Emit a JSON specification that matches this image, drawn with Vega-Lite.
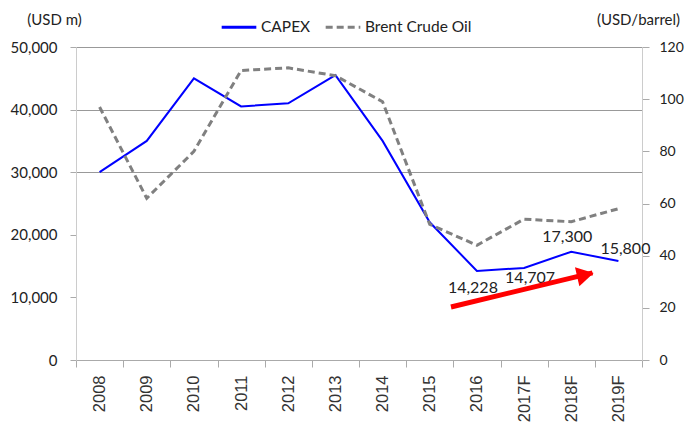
{
  "$schema": "https://vega.github.io/schema/vega-lite/v6.json",
  "width": 566,
  "height": 313,
  "autosize": {"type": "none"},
  "padding": {"left": 76, "top": 47, "right": 44, "bottom": 65},
  "background": "white",
  "config": {"view": {"stroke": null}, "font": "Lato"},
  "datasets": {
    "main": [
      {"year": "2008", "capex": 30000, "brent": 97},
      {"year": "2009", "capex": 35000, "brent": 62},
      {"year": "2010", "capex": 45000, "brent": 80},
      {"year": "2011", "capex": 40500, "brent": 111},
      {"year": "2012", "capex": 41000, "brent": 112},
      {"year": "2013", "capex": 45500, "brent": 109},
      {"year": "2014", "capex": 35000, "brent": 99},
      {"year": "2015", "capex": 22000, "brent": 52},
      {"year": "2016", "capex": 14228, "brent": 44, "label": "14,228"},
      {"year": "2017F", "capex": 14707, "brent": 54, "label": "14,707"},
      {"year": "2018F", "capex": 17300, "brent": 53, "label": "17,300"},
      {"year": "2019F", "capex": 15800, "brent": 58, "label": "15,800"}
    ],
    "arrow": [
      {"year": "2015", "v": 20.3},
      {"year": "2018F", "v": 33.4}
    ],
    "arrowhead": [
      {"year": "2018F", "v": 32.6}
    ]
  },
  "layer": [
    {
      "data": {"name": "main"},
      "layer": [
        {
          "mark": {"type": "line", "color": "#0000ff", "strokeWidth": 2},
          "encoding": {
            "x": {
              "field": "year", "type": "nominal", "sort": null, "bandPosition": 0.5,
              "scale": {"type": "band", "paddingInner": 0, "paddingOuter": 0},
              "axis": {
                "title": null, "labelAngle": -90, "labelAlign": "right", "labelBaseline": "middle",
                "labelFont": "Liberation Sans", "labelFontSize": 16.5, "labelColor": "#333",
                "tickBand": "extent", "tickSize": 7, "tickColor": "#aaa", "domainColor": "#aaa",
                "labelPadding": 8, "grid": false
              }
            },
            "y": {
              "field": "capex", "type": "quantitative",
              "scale": {"domain": [0, 50000], "nice": false},
              "axis": {
                "values": [0, 10000, 20000, 30000, 40000, 50000], "format": ",.0f",
                "title": "(USD m)", "titleAngle": 0, "titleX": -22, "titleY": -28,
                "titleAlign": "center", "titleBaseline": "middle", "titleFont": "Lato",
                "titleFontSize": 15, "titleFontWeight": "normal", "titleColor": "#222",
                "labelFont": "Lato", "labelFontSize": 15, "labelColor": "#222",
                "tickSize": 6, "tickColor": "#aaa", "labelPadding": 13,
                "domainColor": "#ccc",
                "grid": true,
                "gridColor": {"condition": {"test": "datum.value >= 30000", "value": "#999"}, "value": "transparent"}
              }
            },
            "color": {
              "datum": "CAPEX",
              "scale": {"domain": ["CAPEX", "Brent Crude Oil"], "range": ["#0000ff", "#808080"]},
              "legend": {
                "title": null, "orient": "none", "legendX": 144, "legendY": -39,
                "direction": "horizontal", "symbolType": "stroke", "symbolSize": 1200,
                "symbolStrokeWidth": 3, "labelFont": "Lato", "labelFontSize": 15.5,
                "labelColor": "#222", "labelOffset": 3, "columnPadding": 8,
                "encode": {
                  "symbols": {
                    "update": {
                      "strokeDash": {"signal": "datum.value === 'Brent Crude Oil' ? [7, 4] : [1, 0]"}
                    }
                  }
                }
              }
            }
          }
        },
        {
          "transform": [{"filter": "datum.year === '2016'"}],
          "mark": {"type": "text", "font": "Lato", "fontSize": 16, "color": "#222", "dx": -4, "dy": 17},
          "encoding": {
            "x": {"field": "year", "type": "nominal", "sort": null, "bandPosition": 0.5},
            "y": {"field": "capex", "type": "quantitative"},
            "text": {"field": "label"}
          }
        },
        {
          "transform": [{"filter": "datum.year === '2017F'"}],
          "mark": {"type": "text", "font": "Lato", "fontSize": 16, "color": "#222", "dx": 6, "dy": 10},
          "encoding": {
            "x": {"field": "year", "type": "nominal", "sort": null, "bandPosition": 0.5},
            "y": {"field": "capex", "type": "quantitative"},
            "text": {"field": "label"}
          }
        },
        {
          "transform": [{"filter": "datum.year === '2018F'"}],
          "mark": {"type": "text", "font": "Lato", "fontSize": 16, "color": "#222", "dx": -4, "dy": -15},
          "encoding": {
            "x": {"field": "year", "type": "nominal", "sort": null, "bandPosition": 0.5},
            "y": {"field": "capex", "type": "quantitative"},
            "text": {"field": "label"}
          }
        },
        {
          "transform": [{"filter": "datum.year === '2019F'"}],
          "mark": {"type": "text", "font": "Lato", "fontSize": 16, "color": "#222", "dx": 7, "dy": -12},
          "encoding": {
            "x": {"field": "year", "type": "nominal", "sort": null, "bandPosition": 0.5},
            "y": {"field": "capex", "type": "quantitative"},
            "text": {"field": "label"}
          }
        }
      ]
    },
    {
      "layer": [
        {
          "data": {"name": "main"},
          "mark": {"type": "line", "color": "#808080", "strokeWidth": 3, "strokeDash": [7, 4]},
          "encoding": {
            "x": {"field": "year", "type": "nominal", "sort": null, "bandPosition": 0.5},
            "y": {
              "field": "brent", "type": "quantitative",
              "scale": {"domain": [0, 120], "nice": false},
              "axis": {
                "orient": "right", "values": [0, 20, 40, 60, 80, 100, 120],
                "title": "(USD/barrel)", "titleAngle": 0, "titleX": -4, "titleY": -28,
                "titleAlign": "center", "titleBaseline": "middle", "titleFont": "Lato",
                "titleFontSize": 15, "titleFontWeight": "normal", "titleColor": "#222",
                "labelFont": "Lato", "labelFontSize": 14, "labelColor": "#222",
                "tickSize": 7, "tickColor": "#aaa", "labelPadding": 10,
                "domainColor": "#ccc", "grid": false
              }
            },
            "color": {"datum": "Brent Crude Oil"}
          }
        },
        {
          "data": {"name": "arrow"},
          "mark": {"type": "line", "color": "#ff0000", "strokeWidth": 5},
          "encoding": {
            "x": {"field": "year", "type": "nominal", "sort": null, "bandPosition": 0.95},
            "y": {"field": "v", "type": "quantitative"}
          }
        },
        {
          "data": {"name": "arrowhead"},
          "mark": {"type": "point", "shape": "triangle-right", "filled": true, "color": "#ff0000", "opacity": 1, "size": 380, "angle": -13},
          "encoding": {
            "x": {"field": "year", "type": "nominal", "sort": null, "bandPosition": 0.8},
            "y": {"field": "v", "type": "quantitative"}
          }
        }
      ]
    }
  ],
  "resolve": {"scale": {"y": "independent"}, "axis": {"y": "independent"}}
}
